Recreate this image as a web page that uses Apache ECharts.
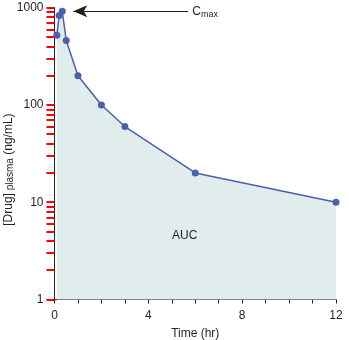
<!DOCTYPE html>
<html>
<head>
<meta charset="utf-8">
<script src="https://cdn.jsdelivr.net/npm/echarts@6/dist/echarts.min.js"></script>
<style>
  html, body { margin: 0; padding: 0; background: #fff; }
  #chart { width: 349px; height: 340px; }
</style>
</head>
<body>
<div id="chart"></div>
<script>
// Plasma concentration–time profile (semi-log)
const timeHr = [0.1, 0.2, 0.33, 0.5, 1, 2, 3, 6, 12];
const concNgMl = [520, 830, 920, 460, 200, 100, 60, 20, 10];
const yTickValues = [1, 10, 100, 1000];
const xLabelValues = [0, 4, 8, 12];
const cmaxArrowFromHr = 5.7;
const cmaxArrowToHr = 0.8;
const aucLabelPos = [5.55, 4.5];

const TEXT = '#231f20';
const LINE = '#4a5fae';
const FILL = '#e1ecec';
const FONT = 'Liberation Sans, Arial, Helvetica, sans-serif';

const cmax = Math.max(...concNgMl);

// all log ticks: 1..9 inside each decade, plus the top decade
const yAllTicks = [];
for (let d = 0; d < yTickValues.length - 1; d++) {
  for (let k = 1; k <= 9; k++) yAllTicks.push(k * yTickValues[d]);
}
yAllTicks.push(yTickValues[yTickValues.length - 1]);

const chart = echarts.init(document.getElementById('chart'), null, { renderer: 'canvas' });

chart.setOption({
  animation: false,
  grid: { left: 54.5, right: 13, top: 7.7, bottom: 40.5, containLabel: false, outerBoundsMode: 'none' },
  xAxis: {
    type: 'value',
    min: 0,
    max: 12,
    interval: 1,
    name: 'Time (hr)',
    nameLocation: 'middle',
    nameGap: 28,
    nameMoveOverlap: false,
    nameTextStyle: { color: TEXT, fontSize: 12, fontFamily: FONT },
    axisLine: { lineStyle: { color: TEXT, width: 1 } },
    axisTick: { length: 4, lineStyle: { color: TEXT } },
    axisLabel: {
      color: TEXT, fontSize: 12, fontFamily: FONT, margin: 10,
      formatter: v => (xLabelValues.indexOf(v) >= 0 ? String(v) : '')
    },
    splitLine: { show: false }
  },
  yAxis: {
    type: 'log',
    logBase: 10,
    min: 1,
    max: 1000,
    name: '[Drug]{sub| plasma} (ng/mL)',
    nameLocation: 'middle',
    nameGap: 39,
    nameRotate: 90,
    nameMoveOverlap: false,
    nameTextStyle: {
      color: TEXT, fontSize: 12, fontFamily: FONT,
      padding: [0, 32, 0, 0],
      rich: { sub: { fontSize: 10, fontFamily: FONT, color: TEXT, verticalAlign: 'bottom', padding: [4, 0, 0, 0] } }
    },
    axisLine: { show: true, onZero: false, lineStyle: { color: TEXT, width: 1 } },
    axisTick: {
      show: true,
      inside: false,
      length: 8,
      customValues: yAllTicks,
      lineStyle: { color: '#ff0000', width: 2 }
    },
    axisLabel: {
      color: TEXT, fontSize: 12, fontFamily: FONT, margin: 11,
      customValues: yTickValues,
      formatter: v => String(Math.round(v))
    },
    splitLine: { show: false }
  },
  series: [
    {
      type: 'line',
      data: timeHr.map((t, i) => [t, concNgMl[i]]),
      symbol: 'circle',
      symbolSize: 7,
      itemStyle: { color: LINE },
      lineStyle: { color: LINE, width: 1.5 },
      areaStyle: { color: FILL, opacity: 1, origin: 'start' },
      z: 3,
      markLine: {
        silent: true,
        symbol: ['none', 'arrow'],
        symbolSize: [9, 14],
        lineStyle: { color: TEXT, width: 1, type: 'solid' },
        label: {
          show: true,
          position: 'start',
          distance: 4,
          formatter: 'C{sub|max}',
          color: TEXT, fontSize: 12, fontFamily: FONT,
          rich: { sub: { fontSize: 9, fontFamily: FONT, color: TEXT, padding: [6, 0, 0, 0] } }
        },
        data: [[{ coord: [cmaxArrowFromHr, cmax] }, { coord: [cmaxArrowToHr, cmax] }]]
      },
      markPoint: {
        silent: true,
        symbol: 'circle',
        symbolSize: 0,
        label: { show: true, position: 'inside', formatter: 'AUC', color: TEXT, fontSize: 12, fontFamily: FONT },
        data: [{ coord: aucLabelPos }]
      }
    }
  ]
});
</script>
</body>
</html>
